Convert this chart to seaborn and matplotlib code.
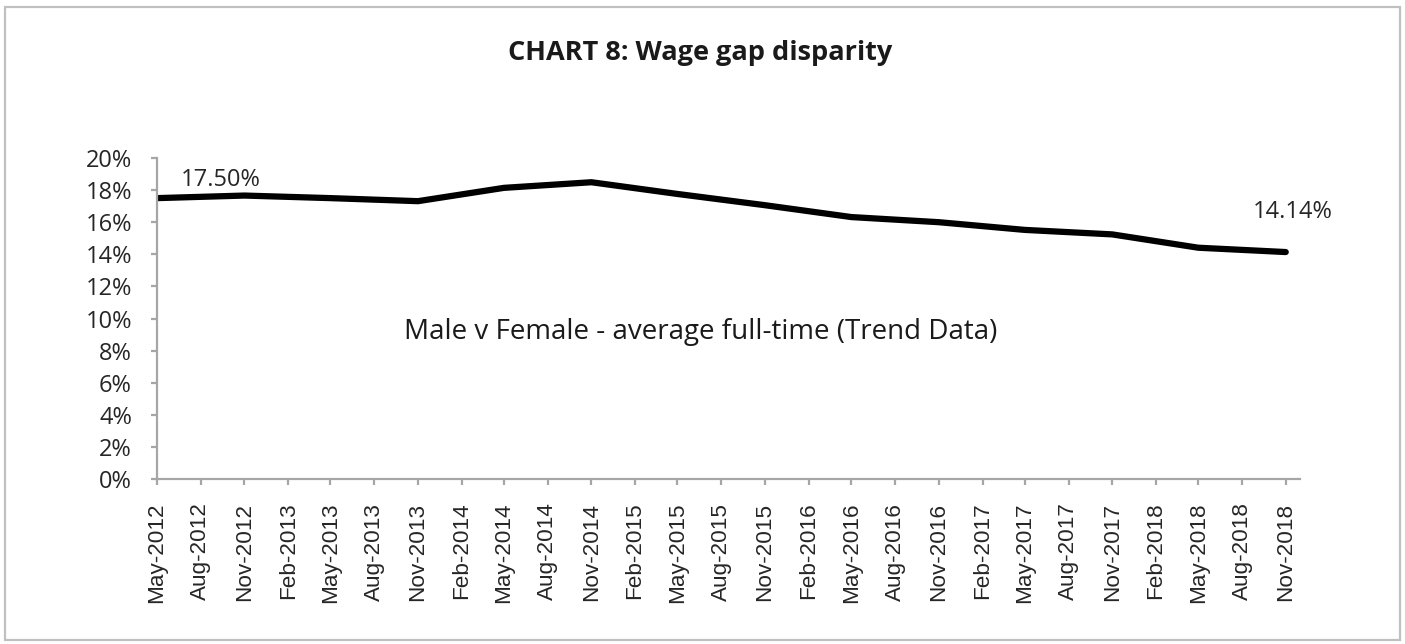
import pandas as pd
import matplotlib
matplotlib.use("Agg")
import matplotlib.pyplot as plt
import matplotlib.dates as mdates
from matplotlib.patches import Rectangle
from matplotlib.ticker import FuncFormatter, MultipleLocator
import seaborn as sns

# ------------------------------------------------------------------
# Data
# ------------------------------------------------------------------
periods = ["2012-05", "2012-11", "2013-05", "2013-11", "2014-05", "2014-11",
           "2015-05", "2015-11", "2016-05", "2016-11", "2017-05", "2017-11",
           "2018-05", "2018-11"]
wage_gap = [17.50, 17.66, 17.50, 17.31, 18.14, 18.49, 17.76, 17.06,
            16.32, 16.00, 15.52, 15.24, 14.41, 14.14]
series_name = "Male v Female - average full-time (Trend Data)"
title = "CHART 8: Wage gap disparity"

df = pd.DataFrame({"date": pd.to_datetime(periods), "gap": wage_gap})

sns.set_theme(style="white")
plt.rcParams["font.family"] = ["Open Sans", "DejaVu Sans"]

axis_grey = "#a6a6a6"

fig = plt.figure(figsize=(14.05, 6.44), dpi=100)
ax = fig.add_axes([157 / 1405, 1 - 479 / 644, (1300 - 157) / 1405, (479 - 158) / 644])

sns.lineplot(data=df, x="date", y="gap", ax=ax, color="black",
             linewidth=4.5, solid_capstyle="round", solid_joinstyle="round")

# axes limits / ticks
ax.set_ylim(0, 20)
ax.yaxis.set_major_locator(MultipleLocator(2))
ax.yaxis.set_major_formatter(FuncFormatter(lambda v, _: f"{v:.0f}%"))
ax.set_xlim(pd.Timestamp("2012-05-01"), pd.Timestamp("2018-12-01"))
ax.xaxis.set_major_locator(mdates.MonthLocator(bymonth=[2, 5, 8, 11]))
ax.xaxis.set_major_formatter(mdates.DateFormatter("%b-%Y"))

for side in ["top", "right"]:
    ax.spines[side].set_visible(False)
for side in ["left", "bottom"]:
    ax.spines[side].set_color(axis_grey)
    ax.spines[side].set_linewidth(1.6)

ax.tick_params(axis="both", which="major", direction="out", length=4,
               width=1.6, color=axis_grey, left=True, bottom=True)
ax.tick_params(axis="y", labelsize=17, pad=14)
ax.tick_params(axis="x", pad=13)
for lbl in ax.get_xticklabels():
    lbl.set_rotation(90)
    lbl.set_fontfamily(["Liberation Sans", "DejaVu Sans"])
    lbl.set_fontsize(16.2)

ax.set_xlabel("")
ax.set_ylabel("")

# data labels on first and last point
ax.annotate(f"{wage_gap[0]:.2f}%", (df["date"].iloc[0], wage_gap[0]),
            xytext=(46, 13), textcoords="offset points",
            ha="center", va="center", fontsize=17)
ax.annotate(f"{wage_gap[-1]:.2f}%", (df["date"].iloc[-1], wage_gap[-1]),
            xytext=(5, 29), textcoords="offset points",
            ha="center", va="center", fontsize=17)

# series name inside the plot
fig.text(701 / 1405, 1 - 332 / 644, series_name, ha="center", va="center",
         fontsize=20, color="#1a1a1a")

fig.text(700 / 1405, 1 - 53 / 644, title, ha="center", va="center",
         fontsize=19.5, fontweight="bold", color="#1a1a1a")

# chart border
fig.patches.append(Rectangle((5 / 1405, 4 / 644), 1395 / 1405, 633 / 644,
                             transform=fig.transFigure, fill=False,
                             edgecolor="#c0c0c0", linewidth=1.6))

fig.savefig("out.png", dpi=100)
